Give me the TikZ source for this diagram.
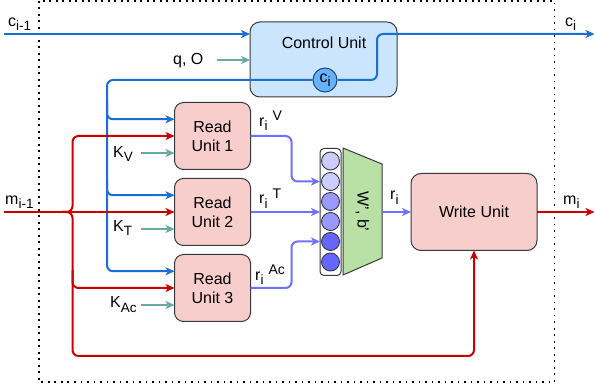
\documentclass[tikz,border=0pt]{standalone}
\usepackage{fontspec}
\setmainfont{Liberation Sans}
\usetikzlibrary{arrows.meta,calc}
\definecolor{cblue}{HTML}{1A6ED8}
\definecolor{cred}{HTML}{CC0000}
\definecolor{cteal}{HTML}{67AB9F}
\definecolor{cpurp}{HTML}{7070FF}
\definecolor{ctrlfill}{HTML}{CCE5FF}
\definecolor{boxline}{HTML}{36393D}
\definecolor{readfill}{HTML}{F8CECC}
\definecolor{cifill}{HTML}{66B2FF}
\definecolor{cidraw}{HTML}{1C4A80}
\definecolor{nlight}{HTML}{CCCCFF}
\definecolor{nmid}{HTML}{9999FF}
\definecolor{ndark}{HTML}{6666FF}
\definecolor{trapfill}{HTML}{B9E0A5}
\newcommand{\lblfont}{\fontsize{16}{19}\selectfont}
\newcommand{\mysub}[1]{\raisebox{-4.5pt}{\fontsize{13.5}{14}\selectfont #1}}
\newcommand{\mysup}[1]{\hspace{5pt}\raisebox{5.5pt}{\fontsize{14}{14}\selectfont #1}}
\begin{document}
\begin{tikzpicture}[x=1pt,y=-1pt,
  arr/.style={-{Stealth[length=9pt,width=8pt,inset=2.5pt]}},
  bl/.style={draw=cblue,line width=2pt,rounded corners=6pt,arr},
  rd/.style={draw=cred,line width=2pt,rounded corners=6pt,arr},
  tl/.style={draw=cteal,line width=2pt,arr},
  pl/.style={draw=cpurp,line width=2pt,rounded corners=6pt,arr},
  unitbox/.style={draw=boxline,fill=readfill,rounded corners=9pt,line width=1pt,align=center,font=\lblfont,inner sep=0pt,outer sep=0pt},
  readbox/.style={unitbox,minimum width=76pt,minimum height=67pt},
  lab/.style={font=\lblfont,inner sep=0pt,anchor=base west},
  neuron/.style={circle,draw=boxline,line width=0.9pt,minimum size=18pt,inner sep=0pt},
  frame/.style={draw=black,line width=1.8pt,dash pattern=on 1.8pt off 4.7pt}
]
\useasboundingbox (0,0) rectangle (595,387);
\draw[frame] (39,1) rectangle (554.5,382);

% Control unit
\node[unitbox,fill=ctrlfill,rounded corners=10pt,minimum width=147pt,minimum height=75pt] (ctrl) at (323.5,59.5) {};
\node[font=\lblfont,inner sep=0pt] (ctrltxt) at (324,43) {Control Unit};
\node[circle,draw=cidraw,fill=cifill,line width=1pt,minimum size=24pt,inner sep=0pt,font=\lblfont] (ci) at (325,80) {c\mysub{i}};

% Read units
\node[readbox] (ru1) at (212.5,136) {Read\\Unit 1};
\node[readbox] (ru2) at (212.5,212) {Read\\Unit 2};
\node[readbox] (ru3) at (212.5,288) {Read\\Unit 3};

% Column of neurons
\node[draw=boxline,fill=white,line width=1pt,rounded corners=4pt,minimum width=21pt,minimum height=127pt,inner sep=0pt,outer sep=0pt] (col) at (330.5,212) {};
\node[neuron,fill=nlight] (n1) at (330.5,161) {};
\node[neuron,fill=nlight] (n2) at (330.5,181.5) {};
\node[neuron,fill=nmid] (n3) at (330.5,201.5) {};
\node[neuron,fill=nmid] (n4) at (330.5,221.5) {};
\node[neuron,fill=ndark] (n5) at (330.5,241.5) {};
\node[neuron,fill=ndark] (n6) at (330.5,262) {};

% Trapezoid
\draw[draw=boxline,fill=trapfill,line width=1pt] (343,148) -- (382,164) -- (382,258) -- (343,275) -- cycle;
\coordinate (trapR) at (382,212);
\node[font=\lblfont,rotate=-90,inner sep=0pt] (wb) at (362.5,211.5) {W', b'};

% Write unit
\node[unitbox,minimum width=126pt,minimum height=77pt,rounded corners=10pt] (wu) at (474,212) {Write Unit};

% Blue control connectors
\coordinate (cin) at (4,34);
\coordinate (cout) at (594.5,34);
\coordinate (bj) at (107,80);
\draw[bl] (cin) -- (cin -| ctrl.west);
\draw[bl] (ci.east) -- (377,80) |- (cout);
\draw[bl] (ci.west) -- (bj) |- ($(ru1.north west)!.25!(ru1.south west)$);
\draw[bl] (107,100) |- ($(ru2.north west)!.25!(ru2.south west)$);
\draw[bl] (107,180) |- ($(ru3.north west)!.25!(ru3.south west)$);

% Teal inputs
\coordinate (qo) at (217,60);
\draw[tl] (qo) -- (qo -| ctrl.west);
\coordinate (kv1) at (141,153);
\coordinate (kv2) at (141,229);
\coordinate (kv3) at (141,305);
\draw[tl] (kv1) -- (kv1 -| ru1.west);
\draw[tl] (kv2) -- (kv2 -| ru2.west);
\draw[tl] (kv3) -- (kv3 -| ru3.west);

% Red memory connectors
\coordinate (min) at (4,212);
\coordinate (mj) at (62,212);
\coordinate (mout) at (594.5,212);
\draw[rd] (min) -- (ru2.west);
\draw[rd] (mj) -| (72.5,136) -- (ru1.west);
\draw[rd] (mj) -| (72.5,356) -| (wu.south);
\draw[rd] (72.5,270) |- (ru3.west);
\draw[rd] (wu.east) -- (mout);

% Purple read outputs
\draw[pl] (ru1.east) -- (291.5,136) |- (col.west |- n2);
\draw[pl] (ru2.east) -- (col.west);
\draw[pl] (ru3.east) -- (291.5,288) |- (col.west |- n5);
\draw[pl] (trapR) -- (wu.west);

% Labels
\node[lab] (lcin) at (8,26.5) {c\mysub{i-1}};
\node[lab] (lcout) at (565,26.5) {c\mysub{i}};
\node[lab] (lq) at (173,64.5) {q, O};
\node[lab] (lkv) at (113,157.5) {K\mysub{V}};
\node[lab] (lkt) at (113,231.5) {K\mysub{T}};
\node[lab] (lkac) at (110,308) {K\mysub{Ac}};
\node[lab] (lrv) at (259,126.5) {r\mysub{i}\mysup{V}};
\node[lab] (lrt) at (259,204) {r\mysub{i}\mysup{T}};
\node[lab] (lrac) at (255,280.5) {r\mysub{i}\mysup{Ac}};
\node[lab] (lri) at (390,200) {r\mysub{i}};
\node[lab] (lmi) at (563,204.5) {m\mysub{i}};
\node[lab] (lmin) at (5,204.5) {m\mysub{i-1}};
\end{tikzpicture}
\end{document}
